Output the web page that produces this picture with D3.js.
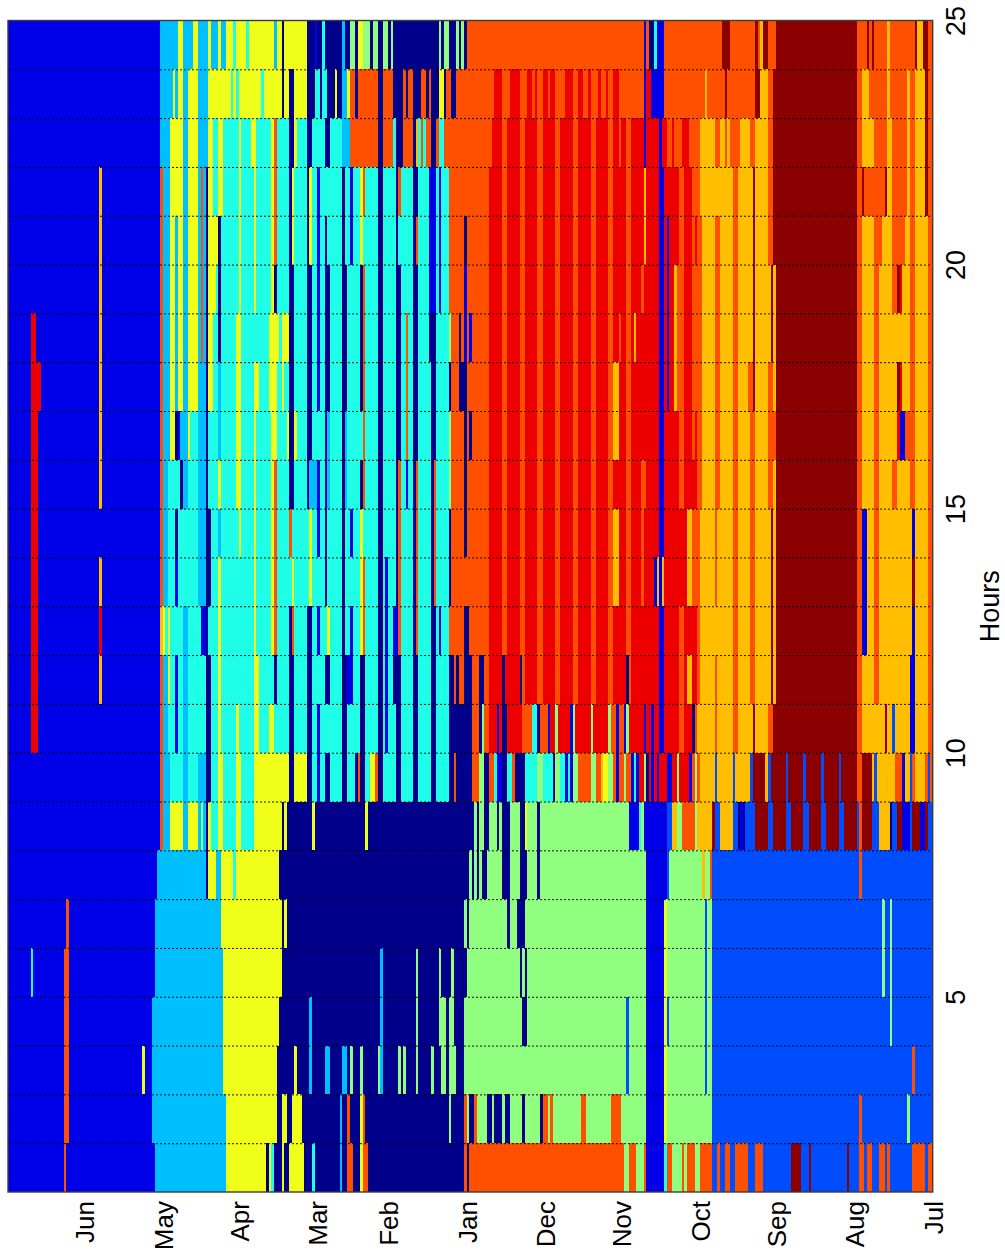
<!DOCTYPE html>
<html>
<head>
<meta charset="utf-8">
<script src="https://cdn.jsdelivr.net/npm/d3@7"></script>
<style>
html,body{margin:0;padding:0;background:#fff}
svg{display:block}
text{font-family:"Liberation Sans",Arial,sans-serif;fill:#000}
</style>
</head>
<body>
<svg id="chart" width="1005" height="1253"></svg>
<script>
// Cluster colour key
const classCodes  = ["n","b","m","s","c","g","y","a","o","r","d"];
const classColors = ["#00008b","#0000e8","#004cff","#00bfff","#1fffe8","#90ff80","#efff1a","#ffbf00","#ff5000","#ee0000","#8b0000"];

// Month axis: day count back from the end of June
const monthDays   = [30,61,91,122,150,181,212,242,273,303,334,365];
const monthLabels = ["Jun","May","Apr","Mar","Feb","Jan","Dec","Nov","Oct","Sep","Aug","Jul"];
const hourTicks   = [5,10,15,20,25];
const hourGrid    = [2,3,4,5,6,7,8,9,10,11,12,13,14,15,16,17,18,19,20,21,22,23,24];
const axisTitle   = "Hours";

// One row per hour: each token = class code + day count at which that run ends
const h01 = "b22 o23 b58 s86 y102 n103 y104 c105 n108 y109 n111 y117 n120 c121 n131 s132 n134 o136 n139 y140 o142 n180 o181 n182 o243 g245 o248 g251 o252 b259 c260 o262 g266 o267 g268 o271 g273 o278 m280 o281 m283 o285 m287 o292 m295 o298 m309 d313 m316 d317 m331 d332 m336 o338 m339 o341 m344 o346 m347 o348 m357 o362 m363 o365";
const h02 = "b22 o24 b57 s86 y106 n108 y110 n112 y116 n131 s132 n134 o135 n139 y140 o141 n174 g175 n180 o181 g182 n184 o185 g189 n191 g192 n195 g196 n198 g203 n204 g210 n211 o213 g214 o215 g226 o228 g238 o242 g252 b259 y260 g278 m336 o337 m355 g356 m365";
const h03 = "b22 o24 b53 y54 b57 s85 y106 n113 y114 n119 s120 n125 s127 n132 s134 n135 g136 n139 g140 n146 g147 s148 n154 g155 n156 g157 n161 g162 n167 g168 n171 g173 n174 g177 n180 g244 m245 g252 b259 y260 g275 m276 g278 m357 o358 m365";
const h04 = "b22 o24 b57 s85 y107 n119 s120 n147 s148 n161 g162 n170 g173 n174 g176 n180 g203 n205 g244 m245 g252 b259 y260 m261 g275 m276 g278 m348 g349 m365";
const h05 = "b9 c10 b22 o24 b58 s85 y108 n147 s148 n161 g162 n170 g171 n175 g176 n181 g202 n203 g204 n205 g252 b259 y260 g275 m276 g278 m345 g346 m348 g349 m365";
const h06 = "b23 o24 b58 s84 y108 n109 y110 n180 g181 n182 g197 n198 g201 n204 g252 b259 y260 g275 m276 g278 m345 g346 m348 g349 m365";
const h07 = "b59 s78 n79 y82 s84 y89 c90 y107 n182 g183 n184 g185 n186 g187 n189 g195 n198 g202 n205 g209 n210 g252 b260 m261 g274 a275 g277 o278 m336 o337 m365";
const h08 = "b60 o61 s64 y69 s71 y75 s76 g77 s78 n79 y80 c83 y85 c90 y92 c97 y108 n109 y110 n120 y121 n141 y142 n184 g185 n186 g188 n190 g193 n194 g195 n198 g202 n204 y205 g209 n210 g245 b249 c250 g251 b260 m262 a264 g266 o271 g272 a278 d279 m281 a286 m288 n289 b290 n291 m295 d300 m302 d307 m309 d314 m316 d321 m323 d328 m330 d335 m336 o337 d341 m344 a348 n349 m351 d353 b356 m357 d360 b362 d363 m365";
const h09 = "d0.5 b60 o61 s64 c69 s71 c75 s78 n80 c83 y85 c90 y92 c97 y111 n113 y118 n120 c122 b123 c125 n127 c132 n134 c137 n138 o139 n141 c143 y145 o146 n148 c153 n155 c160 n162 c167 n169 c174 n176 o177 n183 o186 g188 n190 o192 c193 b195 n197 c199 o200 n204 c209 g211 c215 n216 g218 c220 b221 c222 b223 g225 o230 g232 o234 a235 y237 g239 o240 b241 o243 g244 o246 b247 c248 b249 r251 g252 n253 r254 b255 r256 b257 r260 b262 r264 g265 r269 b270 o271 g272 o273 a279 m280 a286 m287 a293 m294 d299 a300 m301 d307 m308 d314 m315 d321 m322 d328 m329 d335 o337 d341 a342 m343 a350 o353 b354 a356 m357 o358 a362 o363 m364 o365";
const h10 = "d0.5 b9 r12 b60 o61 s63 c66 b67 c69 s71 c78 n80 c83 y84 c90 y91 c97 y99 c103 y105 c111 n113 c118 n120 c122 b123 c132 n134 c139 n141 c146 n148 c149 b150 c153 n155 c160 n162 c167 n169 c174 n183 o186 n187 g188 o190 r193 b194 r195 n197 r203 o207 c209 n210 o213 b214 r216 g217 r222 b223 g224 r230 g231 r237 g238 o240 b241 o243 b244 g245 r251 b252 r254 b255 r257 b259 r265 o267 r270 n271 o272 a279 o280 a286 o288 a294 d295 a300 o302 d335 o337 a346 d347 a349 m350 a356 b358 a363 o365";
const h11 = "d0.5 b9 r12 b36 a37 b60 o61 s63 y64 c66 b67 c69 s71 c78 n80 c83 y84 c97 y99 c105 n106 c111 n113 c118 n120 c125 n127 c132 n134 b136 c139 n141 c146 n148 c149 b150 c152 n155 c160 n162 c167 n169 c174 n176 o177 n178 o180 n183 o186 n188 o190 r195 n196 r202 n203 o204 r209 o211 r216 o218 r223 o225 r230 o232 r237 o239 r244 n245 o246 r257 b259 r265 o267 r268 a270 r272 o273 a279 o280 a286 o288 a293 o295 a301 d302 a303 d335 o337 a342 o344 a356 b358 a363 o365";
const h12 = "d0.5 b9 r12 b36 r37 b60 a61 y62 c63 y64 c69 s71 c76 b78 n79 c83 y84 c97 y98 c104 y105 o106 c111 n112 o113 c118 n120 c122 b123 c126 y127 c132 n133 c135 b136 c139 y140 o141 c146 n148 c149 b150 c152 b154 o155 c160 n161 o162 c167 n169 c170 b171 c174 o180 n182 o190 r195 o197 r202 o204 r209 o211 r216 o218 r223 o225 r230 o232 r237 o239 r244 o246 r257 b259 r265 o267 r272 o273 a286 o288 a293 o295 a301 d302 a303 d335 o337 b339 a342 o344 a357 b358 a363 o365";
const h13 = "d0.5 b9 r12 b36 a37 b60 o61 s63 c66 b67 c75 s78 n80 c83 y84 c97 y98 c104 y105 o106 c112 y113 c119 y120 c125 n126 c132 n133 c139 y140 o141 c146 n148 c149 b150 c153 n154 o155 c160 n161 o162 c167 n168 o169 c174 n175 o190 r195 o197 r202 o204 r209 o211 r216 o218 r223 o225 r230 o232 r237 o239 a241 r244 o246 r250 o251 r255 b256 a257 b258 a259 r268 a270 o273 a279 o280 a286 o288 a293 o295 a301 d302 a303 d335 o337 b339 a342 o344 a357 d358 a363 o365";
const h14 = "d0.5 b9 r12 b60 o61 s63 c66 n67 c75 s78 n80 c83 s84 c91 y92 c97 y98 c104 y105 o106 c111 o112 c119 y120 c122 b123 c125 n126 c132 n133 c135 b136 c139 y140 c146 n148 c153 n154 o155 c160 n161 o162 c167 n168 o169 c174 n175 o180 n181 o190 r195 o197 r202 o204 r209 o211 r216 o218 r223 o225 r230 o232 r237 o239 a241 r244 o246 r250 o251 r257 b259 r268 a270 o273 a279 o280 a286 o288 a293 o295 a301 d302 a303 d335 o337 b339 a342 o344 a357 b358 a363 o365";
const h15 = "b9 r12 b36 a37 b60 o61 s63 c68 n69 s71 c75 s78 n79 c83 y84 c90 y92 c97 y98 c104 y105 o106 c111 n113 c118 n119 s122 b123 c125 n126 s127 c132 n133 s134 c139 n140 o141 c146 n148 c153 n154 o155 c157 b158 c160 n161 o162 c167 n168 o169 c174 g175 o180 n181 o190 r195 o197 r202 o204 r209 o211 r216 o218 r223 o225 r230 o232 r237 o239 r244 o246 r250 o252 r257 b259 r265 o267 r272 o274 a279 o281 a286 o288 a293 o295 a300 o302 a303 d335 o337 a342 o344 a349 o351 a356 o358 a363 o365";
const h16 = "d0.5 b9 r12 b36 a37 b60 o61 s64 y66 n67 b68 s71 y72 c75 s78 n79 c83 s84 c90 y92 c97 y98 c104 y106 c110 y111 n113 y114 c118 n120 c125 n126 s127 c132 n133 s134 c140 o141 c146 n148 c153 n155 c157 o158 c160 n162 c167 n169 c174 g175 o180 n181 o182 n183 o190 r195 o197 r202 o204 r209 o211 r216 o218 r223 o225 r230 o232 r237 o239 a241 r244 o246 r257 b259 r265 o267 r270 o271 r272 o274 a279 o281 a286 o288 a293 o295 a300 o303 d335 o337 a342 o344 a351 r352 b354 o358 a363 o365";
const h17 = "b9 r13 b36 a37 b60 o61 s64 y66 s67 y69 s71 y75 s78 n79 y81 c83 s84 c90 y92 c97 y99 c103 y106 c108 y109 c111 n113 c118 n120 c122 b123 c125 n127 c132 n134 c139 n140 o141 c146 n148 c153 n155 c157 o158 c160 n162 c167 n169 c174 n175 o178 n181 o190 r195 o197 r202 o204 r209 o211 r216 o218 r223 o225 r230 o232 r237 o239 a241 r244 o246 r257 b259 r260 b261 r263 a264 o267 r270 o274 a279 o281 a286 o288 a292 o294 d295 a300 o302 a303 d335 o337 a342 o344 a351 d352 r353 a356 o358 a363 o365";
const h18 = "d0.5 b9 r11 b36 a37 b60 o61 s64 y66 s67 y69 s71 y75 s76 o77 s78 n79 y81 c83 n84 c90 y92 c103 y107 c108 y111 n113 c118 n120 c122 b123 c125 n127 c132 n134 c139 n140 o141 c146 n148 c153 n155 c157 o158 c160 n162 c166 n169 c174 g175 o178 n179 o180 b181 o182 b183 o190 r195 o197 r202 o204 r209 o211 r216 o218 r223 o225 r230 o232 r237 o239 r241 o242 r244 o246 r247 a248 r257 b259 r260 b261 r263 a264 o267 r270 o274 a279 o281 a286 o288 a294 d295 a301 d302 a303 d335 o337 a342 o344 a356 o358 a363 o365";
const h19 = "d0.5 b36 a37 b60 o61 s64 y66 s67 y69 s71 y75 s76 o77 s78 n79 y82 c83 n84 c91 y92 c97 y98 c104 y105 n106 c111 n113 c118 n120 c122 b123 c125 n127 c132 n134 c139 n140 o141 c146 n148 c153 n155 c160 n162 c166 b169 c170 b171 c174 o180 b181 o190 r195 o197 r202 o204 r209 o211 r216 o218 r223 o225 r230 o232 r237 o239 r244 o246 r250 o251 r257 b259 r260 b261 r263 a264 o267 r270 o274 a279 o281 a286 o288 a294 d295 a301 d302 a303 d335 o337 a342 o344 a349 o351 d352 r353 a356 o358 a363 o365";
const h20 = "d0.5 b36 a37 b60 o61 s64 y66 s67 y69 s71 y75 s76 o77 s78 n79 y83 n84 c91 y92 c97 y98 c104 y105 o106 c111 n112 y113 c118 n119 y120 c122 b123 c125 n126 c132 n133 c135 b136 c139 y140 c146 n148 c153 n154 c160 n161 o162 c166 b169 c170 b171 c174 o180 n181 o190 r195 o197 r202 o204 r209 o211 r216 o218 r223 o225 r230 o232 r237 o239 r244 o246 r251 a252 r257 b259 r260 b261 r265 o267 r270 o271 r272 o274 a279 o281 a286 o288 a294 d295 a300 o302 d335 o337 a342 o345 a349 o354 a356 o358 a363 o365";
const h21 = "b36 a37 b60 o61 s64 y69 s71 y75 s76 o77 s78 n79 y81 c83 y85 c91 y92 c97 y98 c104 y105 o106 c111 n112 y113 c118 n119 y120 c122 b123 c132 n133 c135 b136 c139 y140 o141 c146 n148 c153 n154 o155 c160 n162 c166 b169 c170 b171 c174 o190 r195 o197 r202 o204 r209 o211 r216 o218 r223 o225 r230 o232 r237 o239 r244 o246 r251 a252 r257 b259 r265 o267 r270 o273 a286 o288 a294 d295 a300 o302 d335 o337 d338 o346 d347 a349 o355 a356 o358 a362 d363 o365";
const h22 = "b60 s64 y69 s71 y75 s79 y81 c83 y85 c91 y92 c96 y98 c104 y105 o106 c111 n113 y114 c118 n120 c125 n127 c132 s135 o146 n148 o152 c153 n156 o160 n161 a162 c163 o164 c165 o167 n169 o170 c172 o191 r195 o197 r202 o204 r209 o211 r216 o218 r223 o225 r230 o232 r237 o239 r241 o242 r244 o246 r251 b252 r257 b258 r260 o262 r263 o266 r269 o273 a279 o281 a283 o284 a285 o289 a293 o295 a300 o302 d335 o337 a342 o347 a349 o355 a356 o358 a362 d363 o365";
const h23 = "b60 s65 y66 s67 y69 s71 y75 s79 y88 c89 y90 c91 y100 c101 y108 n109 y111 n113 y118 n121 c123 n124 c126 n129 y130 n132 s134 y135 o137 n138 o146 n148 o152 n156 o157 n158 o160 n163 o165 n166 o167 n170 y172 n173 o175 n177 o192 r195 o198 r202 o205 r207 o208 r209 o211 r213 o214 r216 o220 r223 o225 r227 o229 r230 o233 r234 o236 r237 o239 r241 o251 b252 r254 b259 o275 a276 o283 d284 o295 d297 a300 o302 d335 o337 a340 o347 a348 o355 a356 o358 a362 d363 o365";
const h24 = "b60 s67 y69 s73 y75 s79 y80 s83 y84 s86 y89 c90 y94 c95 y105 s106 y108 n109 y118 n121 b122 n124 c125 n132 s133 n135 g137 n138 y140 g143 n144 g146 n148 g150 n151 g152 n170 g171 n172 g174 n177 g178 n179 g180 n181 o251 b252 o253 n255 c256 b259 o282 d285 o295 d296 o297 a298 d300 o303 d335 o339 d340 o341 d342 o347 a348 o358 d359 a361 d363 o365";

const hourRows = [h01,h02,h03,h04,h05,h06,h07,h08,h09,h10,h11,h12,h13,h14,h15,h16,h17,h18,h19,h20,h21,h22,h23,h24];

const svg = d3.select("#chart");
const plot = {left:8, right:932.7, top:20.5, bottom:1192};
const x = d3.scaleLinear().domain([0,365]).range([plot.left,plot.right]);
const y = d3.scaleLinear().domain([1,25]).range([plot.bottom,plot.top]);
const color = d3.scaleOrdinal().domain(classCodes).range(classColors);

// Runs of cells
const runs = [];
hourRows.forEach((row,i)=>{
  let start = 0;
  row.split(" ").forEach(tok=>{
    const end = +tok.slice(1);
    if(end>start){ runs.push({hour:i+1,start,end,cls:tok[0]}); start=end; }
  });
});
svg.append("g").attr("shape-rendering","crispEdges")
  .selectAll("rect").data(runs).join("rect")
  .attr("x",d=>x(d.start))
  .attr("width",d=>x(d.end)-x(d.start))
  .attr("y",d=>y(d.hour+1))
  .attr("height",d=>y(d.hour)-y(d.hour+1))
  .attr("fill",d=>color(d.cls));

// Dotted hour grid
const grid = svg.append("g").attr("transform",`translate(${plot.left},0)`)
  .call(d3.axisRight(y).tickValues(hourGrid).tickSize(plot.right-plot.left).tickFormat(""));
grid.select(".domain").remove();
grid.selectAll("line").attr("stroke","#000").attr("stroke-width",1).attr("stroke-dasharray","2,2").attr("stroke-opacity",0.9);

// Frame
svg.append("rect").attr("x",plot.left).attr("y",plot.top)
  .attr("width",plot.right-plot.left).attr("height",plot.bottom-plot.top)
  .attr("fill","none").attr("stroke","#3c3c3c").attr("stroke-width",1.4);

// Month labels (rotated)
const monthAxis = svg.append("g").attr("transform",`translate(0,${plot.bottom})`)
  .call(d3.axisBottom(x).tickValues(monthDays).tickSize(0).tickFormat((d,i)=>monthLabels[i]));
monthAxis.select(".domain").remove();
monthAxis.selectAll("text")
  .attr("font-size",26).attr("text-anchor","end").attr("x",null).attr("y",null).attr("dy",null)
  .attr("fill","#000")
  .attr("transform","translate(9.5,9) rotate(-90)");

// Hour labels (rotated)
const hourAxis = svg.append("g").attr("transform",`translate(${plot.right},0)`)
  .call(d3.axisRight(y).tickValues(hourTicks).tickSize(0).tickFormat(d3.format("d")));
hourAxis.select(".domain").remove();
hourAxis.selectAll("text")
  .attr("font-size",27).attr("text-anchor","middle").attr("x",null).attr("y",null).attr("dy",null)
  .attr("fill","#000")
  .attr("transform","translate(32,0) rotate(-90)");

// Axis title
svg.append("text").attr("font-size",27).attr("text-anchor","middle")
  .attr("transform",`translate(999,${(plot.top+plot.bottom)/2}) rotate(-90)`)
  .text(axisTitle);
</script>
</body>
</html>
